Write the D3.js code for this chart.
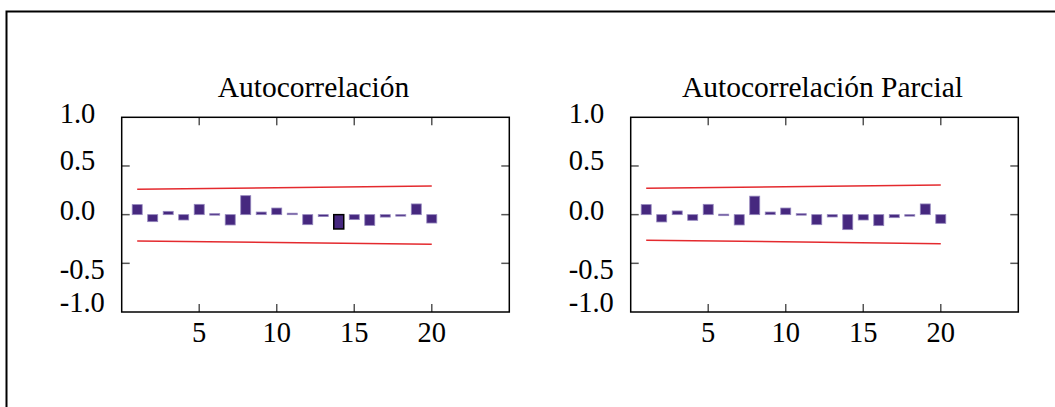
<!DOCTYPE html>
<html lang="es">
<head>
<meta charset="UTF-8">
<title>Correlograma</title>
<style>
body { margin: 0; background: #fff; }
text { font-family: 'Liberation Serif', 'Times New Roman', serif; font-size: 28.5px; fill: #000; }
text.title { font-size: 29.5px; }
.frame { fill: none; stroke: #000; stroke-width: 1.5; }
.tick { stroke: #555; stroke-width: 1.5; }
.bar { fill: #46287f; stroke: #9486bd; stroke-width: 0.8; }
.bar.sel { stroke: #000; stroke-width: 1.5; }
.band { fill: none; stroke: #e42a2e; stroke-width: 1.5; }
</style>
</head>
<body>
<div id="chart"></div>
<script src="https://cdnjs.cloudflare.com/ajax/libs/d3/7.8.5/d3.min.js"></script>
<script>

// rezagos 1..20
var lags = [1, 2, 3, 4, 5, 6, 7, 8, 9, 10, 11, 12, 13, 14, 15, 16, 17, 18, 19, 20];

var acfValues = [0.103, -0.072, 0.034, -0.055, 0.106, 0.01, -0.106, 0.195, 0.027, 0.068,
                 0.015, -0.103, -0.02, -0.147, -0.051, -0.11, -0.025, -0.007, 0.11, -0.086];
var pacfValues = [0.103, -0.075, 0.038, -0.058, 0.106, 0.005, -0.106, 0.19, 0.027, 0.068,
                  0.01, -0.103, -0.024, -0.154, -0.055, -0.113, -0.031, -0.003, 0.11, -0.089];

// bandas de confianza (extremos)
var bandLags = [1, 20];
var acfUpper = [0.26, 0.294];
var acfLower = [-0.271, -0.305];
var pacfUpper = [0.271, 0.305];
var pacfLower = [-0.263, -0.298];

var xTicks = [5, 10, 15, 20];
var yTicks = [0.5, 0.0, -0.5];
var yTickLabels = ["1.0", "0.5", "0.0", "-0.5", "-1.0"];
var yLabelAt = [0.94, 0.455, -0.055, -0.665, -1.0];
var highlightLag = 14;

var width = 1055, height = 407;

var svg = d3.select('#chart').append('svg')
  .attr('width', width)
  .attr('height', height);

// marco exterior
svg.append('rect')
  .attr('x', 6.5).attr('y', 11.5)
  .attr('width', 1100).attr('height', 450)
  .attr('fill', 'none')
  .attr('stroke', '#000')
  .attr('stroke-width', 2);

var plotW = 387.6, plotH = 194.7;

var x = d3.scaleLinear().domain([0, 25]).range([0, plotW]);
var y = d3.scaleLinear().domain([-1, 1]).range([plotH, 0]);
var barW = 10;

function drawPanel(left, top, title, values, upper, lower, sel) {
  var g = svg.append('g').attr('transform', 'translate(' + left + ',' + top + ')');

  g.append('text')
    .attr('class', 'title')
    .attr('x', plotW / 2 - 2)
    .attr('y', -20)
    .attr('text-anchor', 'middle')
    .text(title);

  // bandas
  var line = d3.line()
    .x(function (d) { return x(d[0]); })
    .y(function (d) { return y(d[1]); });
  [upper, lower].forEach(function (b) {
    g.append('path')
      .attr('class', 'band')
      .attr('d', line(bandLags.map(function (l, i) { return [l, b[i]]; })));
  });

  // barras
  g.selectAll('.bar')
    .data(values)
    .enter()
    .append('rect')
    .attr('class', function (d, i) { return lags[i] === sel ? 'bar sel' : 'bar'; })
    .attr('x', function (d, i) { return x(lags[i]) - barW / 2; })
    .attr('y', function (d) { return y(Math.max(d, 0)); })
    .attr('width', barW)
    .attr('height', function (d) { return Math.max(Math.abs(y(d) - y(0)), 1.5); });

  // marcas
  xTicks.forEach(function (t) {
    g.append('line').attr('class', 'tick')
      .attr('x1', x(t)).attr('x2', x(t)).attr('y1', 0).attr('y2', 8);
    g.append('line').attr('class', 'tick')
      .attr('x1', x(t)).attr('x2', x(t)).attr('y1', plotH).attr('y2', plotH - 8);
    g.append('text')
      .attr('x', x(t))
      .attr('y', plotH + 30.5)
      .attr('text-anchor', 'middle')
      .text(t);
  });
  yTicks.forEach(function (t) {
    g.append('line').attr('class', 'tick')
      .attr('x1', 0).attr('x2', 8).attr('y1', y(t)).attr('y2', y(t));
    g.append('line').attr('class', 'tick')
      .attr('x1', plotW).attr('x2', plotW - 8).attr('y1', y(t)).attr('y2', y(t));
  });
  yTickLabels.forEach(function (lab, i) {
    g.append('text')
      .attr('x', -62)
      .attr('y', y(yLabelAt[i]))
      .text(lab);
  });

  g.append('rect')
    .attr('class', 'frame')
    .attr('width', plotW)
    .attr('height', plotH);
}

drawPanel(121.7, 117.3, 'Autocorrelación', acfValues, acfUpper, acfLower, highlightLag);
drawPanel(630.7, 117.3, 'Autocorrelación Parcial', pacfValues, pacfUpper, pacfLower, null);

</script>
</body>
</html>
